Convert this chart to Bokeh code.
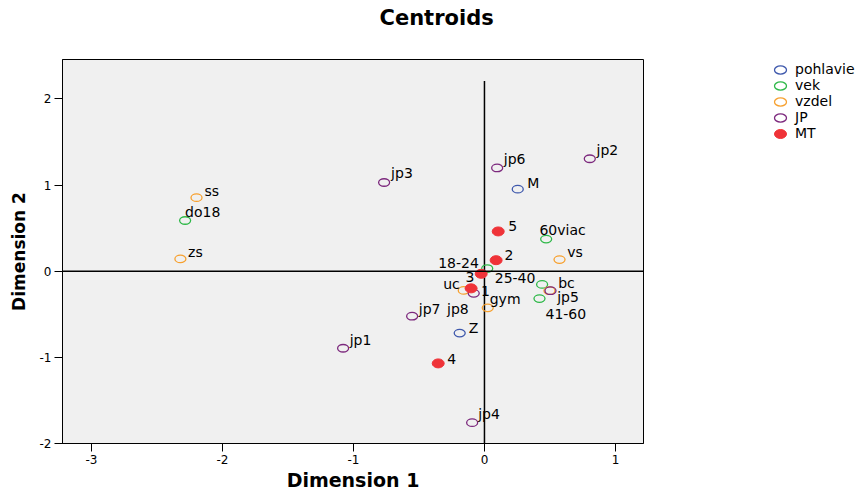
from bokeh.plotting import figure
from bokeh.models import (ColumnDataSource, Span, Legend, LegendItem, Range1d,
                          FixedTicker, Title)
from bokeh.embed import file_html
from bokeh.resources import INLINE
from bokeh.core.properties import value

# ---------------- data ----------------
pohlavie_labels = ["M", "Z"]
pohlavie_x = [0.254, -0.189]
pohlavie_y = [0.952, -0.719]

vek_labels = ["do18", "18-24", "25-40", "41-60", "60viac"]
vek_x = [-2.285, 0.021, 0.440, 0.420, 0.471]
vek_y = [0.588, 0.030, -0.154, -0.319, 0.372]

vzdel_labels = ["zs", "ss", "vs", "uc", "gym", "bc"]
vzdel_x = [-2.321, -2.198, 0.573, -0.158, 0.025, 0.496]
vzdel_y = [0.142, 0.853, 0.134, -0.224, -0.426, -0.227]

jp_labels = ["jp1", "jp2", "jp3", "jp4", "jp5", "jp6", "jp7", "jp8"]
jp_x = [-1.079, 0.804, -0.766, -0.094, 0.504, 0.097, -0.552, -0.082]
jp_y = [-0.895, 1.305, 1.029, -1.759, -0.227, 1.198, -0.523, -0.258]

mt_labels = ["1", "2", "3", "4", "5"]
mt_x = [-0.102, 0.089, -0.025, -0.353, 0.105]
mt_y = [-0.200, 0.127, -0.031, -1.071, 0.461]

series_names = ["pohlavie", "vek", "vzdel", "JP", "MT"]

x_ticks = [-3, -2, -1, 0, 1]
x_tick_labels = ["-3", "-2", "-1", "0", "1"]
y_ticks = [-2, -1, 0, 1, 2]
y_tick_labels = ["-2", "-1", "0", "1", "2"]

x_limits = (-3.221, 1.214)
y_limits = (-2.001, 2.457)
vline_top = 2.207

# ---------------- label placement (pixels, style only) ----------------
label_layout = {
    "M": (9.4, -5.7, "left"), "Z": (9, -5.3, "left"),
    "do18": (0, -8, "left"), "18-24": (-8.4, -5.7, "right"),
    "25-40": (-6.7, -6, "right"), "41-60": (6, 15.7, "left"),
    "60viac": (-6.7, -9, "left"),
    "zs": (7.7, -6.7, "left"), "ss": (8, -7, "left"), "vs": (7.7, -7.7, "left"),
    "uc": (-4, -6, "right"), "gym": (2, -9, "left"), "bc": (8.7, -8, "left"),
    "jp1": (6.6, -8.3, "left"), "jp2": (6.7, -8.3, "left"), "jp3": (7, -9.3, "left"),
    "jp4": (6, -9, "left"), "jp5": (6.7, 6, "left"), "jp6": (6.6, -8.6, "left"),
    "jp7": (6.7, -7, "left"), "jp8": (-5, 16, "right"),
    "1": (10, 2.6, "left"), "2": (8.3, -5.6, "left"), "3": (-6.7, 3.3, "right"),
    "4": (9, -4.6, "left"), "5": (10, -5, "left"),
}

colors = ["#3E58AC", "#2EB848", "#F7A130", "#7C287D", "#EF3338"]
filled = [False, False, False, False, True]

FONT = "DejaVu Sans"

TOP = 58
LEFT = 62
FRAME_W, FRAME_H = 581, 384

p = figure(frame_width=FRAME_W, frame_height=FRAME_H,
           x_range=Range1d(*x_limits), y_range=Range1d(*y_limits),
           output_backend="svg", toolbar_location=None,
           min_border_left=LEFT, min_border_right=212,
           min_border_top=TOP, min_border_bottom=20,
           title="Centroids")

p.title.align = "left"
p.title.offset = 317
p.title.text_font = FONT
p.title.text_font_style = "bold"
p.title.text_font_size = "21px"
p.title.text_color = "black"
p.title.standoff = 6

# empty spacer between the title and the plot frame
p.add_layout(Title(text=" ", text_font_size="1px", standoff=24), "above")

p.background_fill_color = "#F0F0F0"
p.border_fill_color = "white"
p.outline_line_color = "black"
p.outline_line_width = 1
p.xgrid.visible = False
p.ygrid.visible = False

for ax, ticks, labs, name in [(p.xaxis[0], x_ticks, x_tick_labels, "Dimension 1"),
                              (p.yaxis[0], y_ticks, y_tick_labels, "Dimension 2")]:
    ax.ticker = FixedTicker(ticks=ticks)
    ax.major_label_overrides = {t: l for t, l in zip(ticks, labs)}
    ax.major_tick_out = 8
    ax.major_tick_in = 0
    ax.minor_tick_out = 0
    ax.minor_tick_in = 0
    ax.axis_line_color = "black"
    ax.major_tick_line_color = "black"
    ax.major_label_text_font = FONT
    ax.major_label_text_font_size = "12px"
    ax.major_label_text_color = "black"
    ax.major_label_standoff = 3
    ax.axis_label = name
    ax.axis_label_text_font = FONT
    ax.axis_label_text_font_style = "bold"
    ax.axis_label_text_color = "black"

p.xaxis[0].axis_label_text_font_size = "19px"
p.xaxis[0].axis_label_standoff = 2
p.yaxis[0].axis_label_text_font_size = "17px"
p.yaxis[0].axis_label_standoff = 8

# reference lines
p.add_layout(Span(location=0, dimension="width", line_color="black", line_width=1.5))
p.segment(x0=[0], y0=[y_limits[0]], x1=[0], y1=[vline_top], line_color="black", line_width=1.5)

all_groups = [
    (pohlavie_labels, pohlavie_x, pohlavie_y),
    (vek_labels, vek_x, vek_y),
    (vzdel_labels, vzdel_x, vzdel_y),
    (jp_labels, jp_x, jp_y),
    (mt_labels, mt_x, mt_y),
]

items = []
for (labs, xs, ys), name, col, fill in zip(all_groups, series_names, colors, filled):
    src = ColumnDataSource(dict(x=xs, y=ys))
    if fill:
        r = p.ellipse("x", "y", width=12, height=9, width_units="screen",
                      height_units="screen", source=src,
                      fill_color=col, line_color=col, line_width=1)
    else:
        r = p.ellipse("x", "y", width=11, height=7.5, width_units="screen",
                      height_units="screen", source=src,
                      fill_color=None, line_color=col, line_width=1.3)
    items.append(LegendItem(label=name, renderers=[r]))

for (labs, xs, ys) in all_groups:
    src = ColumnDataSource(dict(x=xs, y=ys, lab=labs,
                                dx=[label_layout[l][0] for l in labs],
                                dy=[label_layout[l][1] for l in labs],
                                al=[label_layout[l][2] for l in labs]))
    p.text("x", "y", text="lab", source=src, x_offset="dx", y_offset="dy",
           text_align="al", text_baseline="alphabetic",
           text_font=value(FONT), text_font_size="14px", text_color="black")

legend = Legend(items=items, location=(125, 302), orientation="vertical",
                glyph_width=24, glyph_height=15, spacing=0, label_standoff=3,
                padding=0, margin=0, border_line_color=None,
                background_fill_alpha=0, label_text_font=FONT,
                label_text_font_size="14px", label_text_color="black",
                label_height=15)
p.add_layout(legend, "right")

open("out.html", "w").write(file_html(p, INLINE))
